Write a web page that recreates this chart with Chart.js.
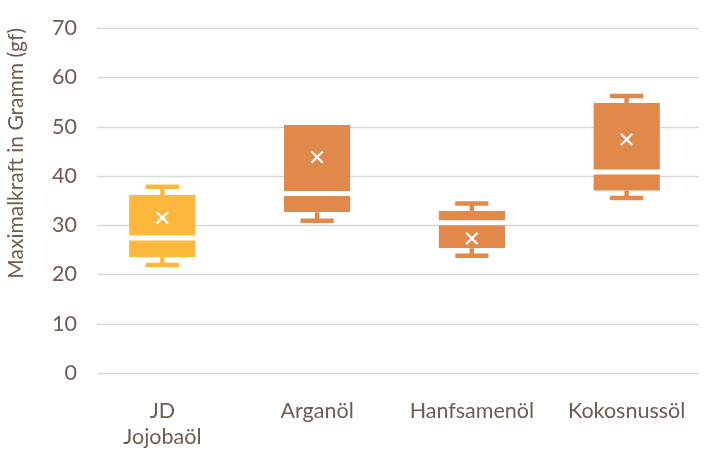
<!DOCTYPE html>
<html>
<head>
<meta charset="utf-8">
<script src="https://cdn.jsdelivr.net/npm/chart.js@4/dist/chart.umd.min.js"></script>
<style>
  html, body { margin: 0; padding: 0; background: #fff; overflow: hidden; }
  #wrap { width: 704px; height: 450px; }
</style>
</head>
<body>
<div id="wrap"><canvas id="boxChart"></canvas></div>
<script>
// Boxplot values
const categories = [['JD', 'Jojobaöl'], 'Arganöl', 'Hanfsamenöl', 'Kokosnussöl'];
const minVals = [21.9, 30.9, 23.8, 35.5];
const q1Vals = [23.5, 32.6, 25.3, 37.0];
const medianVals = [27.4, 36.4, 30.5, 40.8];
const q3Vals = [36.1, 50.3, 32.9, 54.8];
const maxVals = [37.8, 50.3, 34.4, 56.2];
const meanVals = [31.5, 43.8, 27.3, 47.4];
const yTicks = [0, 10, 20, 30, 40, 50, 60, 70];

const boxColors = ['#FDB73D', '#E0894A', '#E0894A', '#E0894A'];
const textColor = '#6F5B50';
const fontFamily = 'Lato, "Open Sans", sans-serif';

// horizontal grid lines, a bit inset from the category area like the original
const gridLines = {
    id: 'gridLines',
    beforeDatasetsDraw(chart) {
        const { ctx, chartArea } = chart;
        const y = chart.scales.y;
        ctx.save();
        ctx.strokeStyle = '#D9D9D9';
        ctx.lineWidth = 1.3;
        y.ticks.forEach(t => {
            const py = Math.round(y.getPixelForValue(t.value)) + 0.5;
            ctx.beginPath();
            ctx.moveTo(chartArea.left + 12, py);
            ctx.lineTo(chartArea.right - 5, py);
            ctx.stroke();
        });
        ctx.restore();
    }
};

// whiskers drawn from the y scale, caps half as wide as the box
const whiskers = {
    id: 'whiskers',
    beforeDatasetsDraw(chart) {
        const ctx = chart.ctx;
        const y = chart.scales.y;
        const bars = chart.getDatasetMeta(0).data;
        ctx.save();
        ctx.lineWidth = 4.5;
        bars.forEach((bar, i) => {
            const x = bar.x;
            const capHalf = bar.width / 4;
            ctx.strokeStyle = boxColors[i];
            const ends = [[q3Vals[i], maxVals[i]], [q1Vals[i], minVals[i]]];
            ends.forEach(([from, to]) => {
                if (from === to) return;
                ctx.beginPath();
                ctx.moveTo(x, y.getPixelForValue(from));
                ctx.lineTo(x, y.getPixelForValue(to));
                ctx.stroke();
                ctx.beginPath();
                ctx.moveTo(x - capHalf, y.getPixelForValue(to));
                ctx.lineTo(x + capHalf, y.getPixelForValue(to));
                ctx.stroke();
            });
        });
        ctx.restore();
    }
};

const ctx = document.getElementById('boxChart').getContext('2d');
new Chart(ctx, {
    data: {
        labels: categories,
        datasets: [
            {
                type: 'bar',
                label: 'lower box',
                data: q1Vals.map((v, i) => [v, medianVals[i]]),
                backgroundColor: boxColors,
                borderColor: '#fff',
                borderWidth: { top: 2.5, bottom: 0, left: 0, right: 0 },
                borderSkipped: false,
                grouped: false,
                barPercentage: 0.43,
                categoryPercentage: 1,
                order: 2,
            },
            {
                type: 'bar',
                label: 'upper box',
                data: medianVals.map((v, i) => [v, q3Vals[i]]),
                backgroundColor: boxColors,
                borderColor: '#fff',
                borderWidth: { top: 0, bottom: 2.5, left: 0, right: 0 },
                borderSkipped: false,
                grouped: false,
                barPercentage: 0.43,
                categoryPercentage: 1,
                order: 2,
            },
            {
                type: 'line',
                label: 'mean',
                data: meanVals,
                showLine: false,
                pointStyle: 'crossRot',
                pointRadius: 8,
                pointBorderColor: '#fff',
                pointBorderWidth: 2.2,
                order: 0,
            },
        ],
    },
    options: {
        responsive: true,
        maintainAspectRatio: false,
        animation: false,
        layout: { autoPadding: false, padding: { left: 0, right: 0, top: 28, bottom: 0 } },
        plugins: {
            legend: { display: false },
            tooltip: { enabled: false },
        },
        scales: {
            x: {
                // tick marks are not drawn (grid hidden), their length only pushes the labels down
                grid: { display: false, drawTicks: true, tickLength: 10 },
                border: { display: false },
                afterFit: (scale) => {
                    scale.height = 77;
                    scale.paddingLeft = 0;
                    scale.paddingRight = 0;
                },
                ticks: {
                    color: textColor,
                    font: { family: fontFamily, size: 21.5, lineHeight: 1.22 },
                    padding: 15,
                    maxRotation: 0,
                },
            },
            y: {
                min: 0,
                max: 70,
                afterBuildTicks: (axis) => { axis.ticks = yTicks.map(v => ({ value: v })); },
                afterFit: (scale) => {
                    scale.width = 85;
                    scale.paddingTop = 0;
                    scale.paddingBottom = 0;
                },
                grid: { display: false, drawTicks: false },
                border: { display: false },
                ticks: {
                    color: textColor,
                    font: { family: fontFamily, size: 21.5 },
                    padding: 8,
                },
                title: {
                    display: true,
                    text: 'Maximalkraft in Gramm (gf)',
                    align: 'end',
                    color: textColor,
                    font: { family: fontFamily, size: 21 },
                    padding: { top: 4, bottom: 0 },
                },
            },
        },
    },
    plugins: [gridLines, whiskers],
});
</script>
</body>
</html>
